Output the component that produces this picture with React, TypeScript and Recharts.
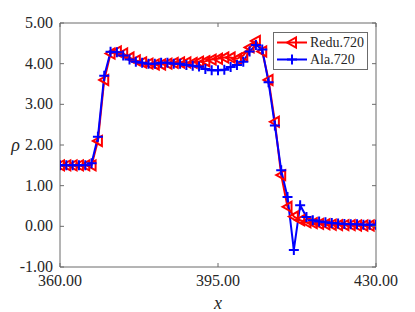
import { LineChart, Line, XAxis, YAxis, Legend } from 'recharts';

// values
const xValues = [
  360, 361.4, 362.8, 364.2, 365.6, 367, 368.4, 369.8, 371.2, 372.6,
  374, 375.4, 376.8, 378.2, 379.6, 381, 382.4, 383.8, 385.2, 386.6,
  388, 389.4, 390.8, 392.2, 393.6, 395, 396.4, 397.8, 399.2, 400.6,
  402, 403.4, 404.8, 406.2, 407.6, 409, 410.4, 411.8, 413.2, 414.6,
  416, 417.4, 418.8, 420.2, 421.6, 423, 424.4, 425.8, 427.2, 428.6, 430,
];
const reduValues = [
  1.5, 1.5, 1.5, 1.5, 1.5, 1.5, 2.1, 3.6, 4.25, 4.3,
  4.25, 4.15, 4.08, 4.03, 4.0, 3.98, 3.98, 4.0, 4.02, 4.03,
  4.03, 4.02, 4.05, 4.06, 4.1, 4.12, 4.15, 4.15, 4.12, 4.2,
  4.4, 4.56, 4.3, 3.6, 2.57, 1.26, 0.48, 0.24, 0.15, 0.1,
  0.08, 0.06, 0.05, 0.04, 0.03, 0.03, 0.03, 0.02, 0.02, 0.02, 0.02,
];
const alaValues = [
  1.5, 1.5, 1.5, 1.5, 1.5, 1.55, 2.2, 3.7, 4.29, 4.28,
  4.2, 4.1, 4.05, 4.02, 4.0, 4.0, 4.02, 4.02, 4.0, 4.0,
  3.97, 3.95, 3.93, 3.87, 3.84, 3.84, 3.85, 3.92, 3.97, 4.05,
  4.3, 4.46, 4.35, 3.54, 2.48, 1.38, 0.72, -0.58, 0.52, 0.23,
  0.15, 0.12, 0.1, 0.08, 0.07, 0.06, 0.05, 0.05, 0.04, 0.04, 0.04,
];
const xTicks = [360, 395, 430];
const yTicks = [-1, 0, 1, 2, 3, 4, 5];

const data = xValues.map((x, i) => ({ x, redu: reduValues[i], ala: alaValues[i] }));

const FONT = '"Liberation Serif", "Times New Roman", serif';
const AXIS = '#6b6b6b';
const TEXT = '#262626';
const RED = '#ff0000';
const BLUE = '#0000ff';

const triangle = (cx: number, cy: number) =>
  `${cx - 5},${cy} ${cx + 4},${cy - 5} ${cx + 4},${cy + 5}`;

const RedDot = (props: any) => {
  const { cx, cy, index } = props;
  if (cx == null || cy == null) return <g key={`r-${index}`} />;
  return (
    <polygon
      key={`r-${index}`}
      points={triangle(cx, cy)}
      fill="none"
      stroke={RED}
      strokeWidth={2}
    />
  );
};

const BlueDot = (props: any) => {
  const { cx, cy, index } = props;
  if (cx == null || cy == null) return <g key={`b-${index}`} />;
  return (
    <path
      key={`b-${index}`}
      d={`M${cx - 5},${cy}H${cx + 5}M${cx},${cy - 5}V${cy + 5}`}
      stroke={BLUE}
      strokeWidth={2}
      fill="none"
    />
  );
};

const tickText = { fontFamily: FONT, fontSize: 16 };

const BottomTick = ({ x, y, payload }: any) => (
  <g>
    <line x1={x} y1={y} x2={x} y2={y - 4} stroke={AXIS} />
    <text x={x} y={y + 19} textAnchor="middle" fill={TEXT} style={tickText}>
      {Number(payload.value).toFixed(2)}
    </text>
  </g>
);

const TopTick = ({ x, y }: any) => (
  <line x1={x} y1={y} x2={x} y2={y + 4} stroke={AXIS} />
);

const LeftTick = ({ x, y, payload }: any) => (
  <g>
    <line x1={x} y1={y} x2={x + 4} y2={y} stroke={AXIS} />
    <text x={x - 7} y={y + 5} textAnchor="end" fill={TEXT} style={tickText}>
      {Number(payload.value).toFixed(2)}
    </text>
  </g>
);

const RightTick = ({ x, y }: any) => (
  <line x1={x} y1={y} x2={x - 4} y2={y} stroke={AXIS} />
);

const legendItems = [
  { label: 'Redu.720', color: RED, marker: 'tri' },
  { label: 'Ala.720', color: BLUE, marker: 'plus' },
];

const LegendBox = () => (
  <div
    style={{
      border: `1px solid ${AXIS}`,
      background: '#fff',
      padding: '1px 3px 1px 2px',
      fontFamily: FONT,
      fontSize: 14,
      color: TEXT,
      lineHeight: '17px',
    }}
  >
    {legendItems.map(item => (
      <div key={item.label} style={{ display: 'flex', alignItems: 'center' }}>
        <svg width={32} height={17} style={{ marginRight: 2 }}>
          <line x1={1} y1={8.5} x2={31} y2={8.5} stroke={item.color} strokeWidth={2} />
          {item.marker === 'tri' ? (
            <polygon points={triangle(16, 8.5)} fill="none" stroke={item.color} strokeWidth={2} />
          ) : (
            <path d="M11,8.5H21M16,3.5V13.5" stroke={item.color} strokeWidth={2} />
          )}
        </svg>
        <span>{item.label}</span>
      </div>
    ))}
  </div>
);

export default function App() {
  return (
    <div style={{ position: 'absolute', left: 0, top: 0, background: '#fff' }}>
      <LineChart
        width={415}
        height={312}
        data={data}
        margin={{ top: 22, right: 38, bottom: 44, left: 59 }}
      >
        <XAxis
          dataKey="x"
          type="number"
          domain={[360, 430]}
          ticks={xTicks}
          height={1}
          tickSize={0}
          tickMargin={0}
          tickLine={false}
          axisLine={{ stroke: AXIS }}
          tick={BottomTick}
          interval={0}
          allowDataOverflow
          label={{
            value: 'x',
            position: 'bottom',
            offset: 28,
            fontSize: 18,
            fontStyle: 'italic',
            style: { fontFamily: FONT },
            fill: TEXT,
          }}
        />
        <XAxis
          xAxisId="top"
          orientation="top"
          dataKey="x"
          type="number"
          domain={[360, 430]}
          ticks={xTicks}
          height={1}
          tickSize={0}
          tickMargin={0}
          tickLine={false}
          axisLine={{ stroke: AXIS }}
          tick={TopTick}
          interval={0}
          allowDataOverflow
        />
        <YAxis
          type="number"
          domain={[-1, 5]}
          ticks={yTicks}
          width={1}
          tickSize={0}
          tickMargin={0}
          tickLine={false}
          axisLine={{ stroke: AXIS }}
          tick={LeftTick}
          interval={0}
          allowDataOverflow
          label={{
            value: 'ρ',
            position: 'left',
            offset: 39,
            fontSize: 18,
            fontStyle: 'italic',
            style: { fontFamily: FONT },
            fill: TEXT,
          }}
        />
        <YAxis
          yAxisId="right"
          orientation="right"
          type="number"
          domain={[-1, 5]}
          ticks={yTicks}
          width={1}
          tickSize={0}
          tickMargin={0}
          tickLine={false}
          axisLine={{ stroke: AXIS }}
          tick={RightTick}
          interval={0}
          allowDataOverflow
        />
        <Legend
          layout="horizontal"
          verticalAlign="middle"
          align="center"
          wrapperStyle={{ left: 273, top: 32, width: 'auto', height: 'auto' }}
          content={() => <LegendBox />}
        />
        <Line
          dataKey="redu"
          name="Redu.720"
          stroke={RED}
          strokeWidth={2}
          dot={RedDot}
          activeDot={false}
          isAnimationActive={false}
        />
        <Line
          dataKey="ala"
          name="Ala.720"
          stroke={BLUE}
          strokeWidth={2}
          dot={BlueDot}
          activeDot={false}
          isAnimationActive={false}
        />
      </LineChart>
    </div>
  );
}
